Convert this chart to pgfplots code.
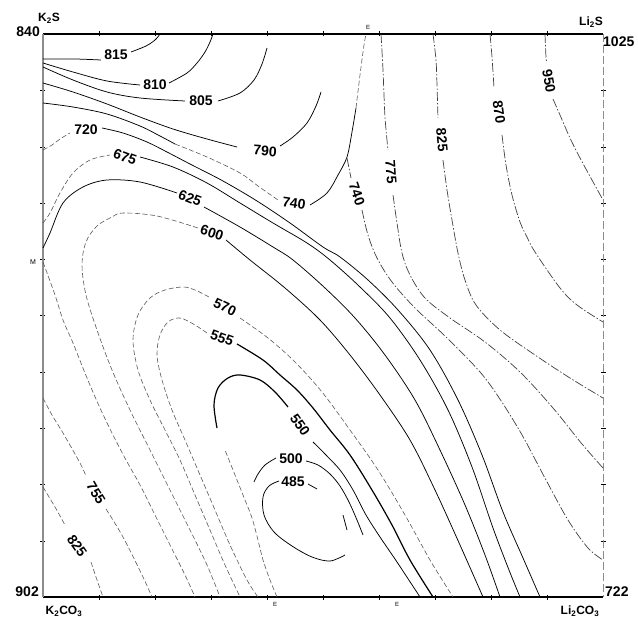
\documentclass[border=0pt]{standalone}
\usepackage{fontspec}
\setmainfont{Liberation Sans}
\usepackage{pgfplots}
\pgfplotsset{compat=1.18}
\newcommand\lab{\fontsize{14}{14}\selectfont\bfseries}
\newcommand\clab{\fontsize{12}{12}\selectfont\bfseries}
\pgfplotsset{
  cs/.style={black, line width=0.75pt, smooth, tension=0.55, no marks},
  cb/.style={black, line width=1.2pt, smooth, tension=0.55, no marks},
  cf/.style={black!75, line width=0.7pt, smooth, tension=0.55, no marks, dash pattern=on 9pt off 2pt on 1.5pt off 2pt},
  cd/.style={black!65, line width=0.6pt, smooth, tension=0.55, no marks, dash pattern=on 5pt off 2.5pt},
}
\newcommand{\cl}[4][0]{\node[font=\lab, rotate=#1, inner sep=0pt] at (axis cs:#2,#3) {#4};}
\begin{document}
\begin{tikzpicture}
\begin{axis}[
  width=560pt, height=563pt, scale only axis,
  xmin=43, xmax=603, ymin=34, ymax=597, y dir=reverse,
  axis line style={draw=none},
  xtick={99,155,211,267,323,379,435,491,547},
  ytick={90,147,203,259,315,372,428,484,541},
  xticklabels={}, yticklabels={},
  tick align=center, major tick length=5pt,
  tick style={black, line width=0.6pt},
  clip=false,
]
% frame
\addplot[black, line width=1.4pt] coordinates {(43,34) (603,34)};
\addplot[black, line width=1.4pt] coordinates {(43,597) (603,597)};
\addplot[black!45, line width=1.1pt] coordinates {(43,34) (43,597)};
\addplot[black!45, line width=0.8pt, dash pattern=on 8pt off 3pt] coordinates {(603,34) (603,597)};
% 815
\addplot[cs] coordinates {(43,59) (75,59) (101,60)};
\addplot[cs] coordinates {(131,52) (146,46) (155,40) (160,34)};
% 810
\addplot[cs] coordinates {(43,63) (73,72) (107,81) (140,85)};
\addplot[cs] coordinates {(169,83) (187,73) (197,63) (205,52) (210,42) (213,34)};
% 805
\addplot[cs] coordinates {(43,67) (73,80) (107,92) (140,98) (185,101)};
\addplot[cs] coordinates {(218,101) (240,93) (254,80) (262,64) (267,48)};
% 790
\addplot[cs] coordinates {(43,83) (73,92) (107,104) (140,117) (173,129) (207,139) (237,147)};
\addplot[cs] coordinates {(280,146) (293,137) (307,123) (316,106) (321,92)};
% 740
\addplot[cs] coordinates {(43,103) (73,107) (107,114) (140,126) (160,136) (175,144)};
\addplot[cd] coordinates {(175,144) (207,157) (240,173) (258,186) (278,200)};
\addplot[cs] coordinates {(310,205) (327,193) (338,175) (347,157) (352,132) (356,108)};
\addplot[cd] coordinates {(356,108) (360,75) (364,45) (366,34)};
\addplot[cf] coordinates {(347,158) (351,178)};
\addplot[cf] coordinates {(362,210) (368,235) (377,258) (392,282) (415,308) (447,338) (485,378) (518,428) (546,480) (568,520) (588,548) (603,560)};
% 720
\addplot[cd] coordinates {(43,150) (52,145) (60,139) (70,133)};
\addplot[cs] coordinates {(102,128) (123,133) (147,142) (167,152) (190,164) (223,181) (257,201) (290,223) (323,247) (340,257) (368,280) (398,310) (430,350) (458,400) (482,455) (503,512) (523,558) (540,597)};
% 675
\addplot[cd] coordinates {(43,223) (50,213) (60,193) (73,173) (90,160) (110,155)};
\addplot[cs] coordinates {(140,157) (173,167) (207,183) (240,203) (273,223) (307,243) (330,260) (360,287) (390,318) (420,360) (448,410) (472,467) (493,528) (509,570) (520,597)};
% 625
\addplot[cs] coordinates {(43,248) (50,233) (63,203) (83,187) (107,180) (140,182) (177,193)};
\addplot[cs] coordinates {(204,207) (240,227) (273,247) (293,260) (325,288) (355,318) (385,355) (415,400) (440,450) (465,505) (485,555) (500,597)};
% 600
\addplot[cd] coordinates {(198,228) (157,216) (123,213) (112,217) (97,226) (86,242) (82,265) (86,295) (97,330) (112,370) (130,410) (150,450) (170,490) (190,530) (207,565) (220,597)};
\addplot[cs] coordinates {(226,240) (250,260) (285,288) (320,320) (350,355) (380,395) (410,440) (435,490) (460,545) (483,597)};
% M line
\addplot[cd] coordinates {(43,262) (55,295) (63,320) (73,343) (87,378) (100,408) (113,435) (126,460) (140,485) (155,515) (170,545) (185,575) (195,597)};
% 755
\addplot[cd] coordinates {(43,398) (52,415) (63,433) (80,463) (86,476)};
\addplot[cd] coordinates {(106,509) (123,537) (143,577) (152,597)};
% 825 bottom
\addplot[cd] coordinates {(43,487) (55,507) (65,525)};
\addplot[cd] coordinates {(91,562) (97,580) (103,597)};
% 570
\addplot[cd] coordinates {(209,297) (195,290) (183,287) (165,290) (150,298) (138,315) (133,340) (138,370) (150,400) (165,430) (180,460) (195,495) (210,530) (225,565) (240,597)};
\addplot[cd] coordinates {(240,318) (268,338) (295,362) (322,392) (350,430) (378,470) (405,515) (430,560) (453,597)};
% 555
\addplot[cd] coordinates {(207,333) (195,325) (180,318) (168,322) (160,335) (157,355) (162,380) (172,410) (185,440) (200,475) (215,510) (230,545) (247,580) (258,597)};
\addplot[cb] coordinates {(237,344) (263,360) (280,375) (297,390) (313,408) (330,430) (350,455) (372,490) (392,525) (410,560) (433,597)};
% 550
\addplot[cd] coordinates {(277,597) (270,580) (263,560) (258,540) (252,518) (245,500) (235,475) (225,450)};
\addplot[cb] coordinates {(217,428) (214,405) (218,388) (228,378) (240,375) (260,380) (275,392) (288,407)};
\addplot[cs] coordinates {(313,442) (325,454) (340,470) (353,490) (366,515) (380,537) (397,562) (420,597)};
% 500
\addplot[cs] coordinates {(276,458) (265,465) (258,474) (254,482)};
\addplot[cs] coordinates {(306,461) (318,465) (330,474) (340,486) (349,502) (357,520) (363,535)};
% 485
\addplot[cs] coordinates {(279,481) (269,486) (263,497) (264,515) (274,532) (292,546) (312,557) (330,561) (345,555)};
\addplot[cs] coordinates {(308,484) (317,489)};
\addplot[cs] coordinates {(343,515) (347,530)};
% 775
\addplot[cf] coordinates {(381,34) (383,70) (385,117) (388,150)};
\addplot[cf] coordinates {(393,195) (397,223) (402,253) (410,275) (425,298) (450,318) (485,342) (520,372) (553,408) (582,444) (603,468)};
% 825 top
\addplot[cf] coordinates {(433,34) (436,60) (437,85) (438,118)};
\addplot[cf] coordinates {(443,160) (447,190) (452,220) (458,253) (465,280) (476,305) (500,330) (535,355) (570,378) (603,398)};
% 870
\addplot[cf] coordinates {(490,34) (492,57) (494,88)};
\addplot[cf] coordinates {(502,135) (506,165) (512,195) (520,222) (527,237) (535,252) (560,288) (577,305) (603,322)};
% 950
\addplot[cf] coordinates {(545,34) (546,57) (547,63)};
\addplot[cf] coordinates {(553,99) (560,115) (570,138) (580,158) (592,180) (603,200)};
% contour labels
\cl{116}{55}{815}
\cl{155}{85}{810}
\cl{201}{101}{805}
\cl{86}{130}{720}
\cl[-4]{265}{151}{790}
\cl[-20]{125}{157}{675}
\cl[-22]{190}{198}{625}
\cl[-8]{294}{203}{740}
\cl[-18]{212}{233}{600}
\cl[-71]{357}{194}{740}
\cl[-86]{391}{172}{775}
\cl[-85]{442}{140}{825}
\cl[-82]{499}{112}{870}
\cl[-80]{549}{81}{950}
\cl[-25]{225}{307}{570}
\cl[-20]{222}{338}{555}
\cl[-55]{300}{425}{550}
\cl{291}{459}{500}
\cl{293}{482}{485}
\cl[-59]{96}{493}{755}
\cl[-55]{77}{546}{825}
% corner labels
\node[font=\lab, anchor=east, inner sep=0pt] at (axis cs:40,32) {840};
\node[font=\lab, anchor=west, inner sep=0pt] at (axis cs:603,42) {1025};
\node[font=\lab, anchor=east, inner sep=0pt] at (axis cs:39,592) {902};
\node[font=\lab, anchor=west, inner sep=0pt] at (axis cs:605,592) {722};
\node[font=\clab, inner sep=0pt] at (axis cs:49,18) {K\textsubscript{2}S};
\node[font=\clab, inner sep=0pt] at (axis cs:591,22) {Li\textsubscript{2}S};
\node[font=\clab, inner sep=0pt] at (axis cs:64,611) {K\textsubscript{2}CO\textsubscript{3}};
\node[font=\clab, inner sep=0pt] at (axis cs:580,611) {Li\textsubscript{2}CO\textsubscript{3}};
\node[font=\fontsize{6}{6}\selectfont, inner sep=0pt] at (axis cs:368,27) {E};
\node[font=\fontsize{6}{6}\selectfont, inner sep=0pt] at (axis cs:275,604) {E};
\node[font=\fontsize{6}{6}\selectfont, inner sep=0pt] at (axis cs:397,604) {E};
\node[font=\fontsize{7}{7}\selectfont, inner sep=0pt] at (axis cs:33,262) {M};
\coordinate (bbA) at (axis cs:0,0);
\coordinate (bbB) at (axis cs:638,618);
\end{axis}
\pgfresetboundingbox
\path[use as bounding box] (bbA) rectangle (bbB);
\end{tikzpicture}
\end{document}
